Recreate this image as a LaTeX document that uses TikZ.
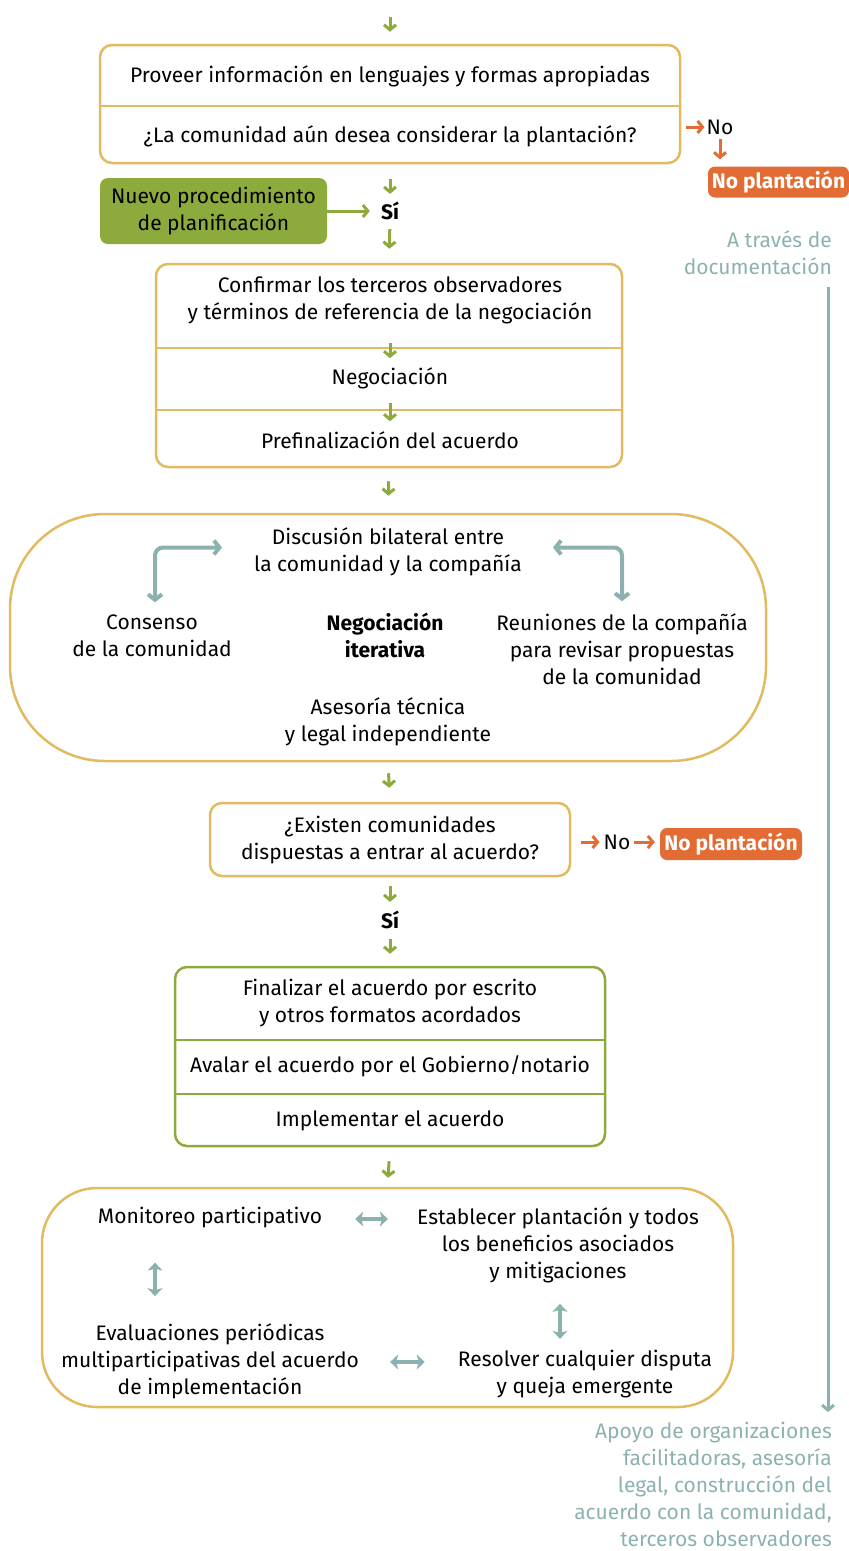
\documentclass[tikz,border=0pt]{standalone}
\usepackage{fontspec}
\setmainfont{Fira Sans}
\usepackage{tikz}
\usetikzlibrary{arrows.meta, positioning, calc}
\definecolor{mygold}{RGB}{226, 186, 96}
\definecolor{mygreen}{RGB}{141, 170, 60}
\definecolor{myorange}{RGB}{227, 108, 53}
\definecolor{myteal}{RGB}{140, 178, 175}
\tikzset{
  texto/.style = {align = center, inner sep = 0pt, font = \fontsize{21}{27}\selectfont},
  marco/.style = {draw = mygold, line width = 2.5pt, rounded corners = 12pt, inner sep = 0pt},
  divisor/.style = {draw = mygold, line width = 2.5pt},
  flecha/.style = {draw = mygreen, line width = 3pt, -{Straight Barb[length = 5pt, width = 12pt]}},
  flechanar/.style = {draw = myorange, line width = 3pt, -{Straight Barb[length = 5pt, width = 12pt]}},
  conector/.style = {draw = myteal, line width = 4pt, {Straight Barb[length = 5.5pt, width = 14pt]}-{Straight Barb[length = 5.5pt, width = 14pt]}},
  doble/.style = {draw = myteal, line width = 4pt, {Stealth[length = 8pt, width = 15pt, inset = 2pt]}-{Stealth[length = 8pt, width = 15pt, inset = 2pt]}},
  nota/.style = {texto, text = myteal, align = right},
  noplant/.style = {texto, fill = myorange, text = white, rounded corners = 7pt, font = \fontsize{21}{27}\selectfont\bfseries}
}
\begin{document}
\begin{tikzpicture}[x = 1pt, y = -1pt]
\useasboundingbox (0, 0) rectangle (849, 1551);

% primer bloque
\node[marco, minimum width = 580, minimum height = 118] (caja1) at (390, 104) {};
\draw[divisor] (caja1.west |- 0, 106) -- (caja1.east |- 0, 106);
\node[texto] (prov) at (390, 76) {Proveer información en lenguajes y formas apropiadas};
\node[texto] (preg1) at (390, 136) {¿La comunidad aún desea considerar la plantación?};
\coordinate (inicio) at (390, 17);
\draw[flecha, shorten >= 12pt] (inicio) -- (caja1.north);

\node[texto] (no1) at (720, 127) {No};
\node[noplant, minimum width = 141, minimum height = 31] (noplant1) at (778.5, 182) {No plantación};
\draw[flechanar, shorten <= 5pt, shorten >= 2pt] (caja1.east |- no1.west) -- (no1.west);
\draw[flechanar, shorten <= 4pt, shorten >= 7pt] (no1.south) -- (no1.south |- noplant1.north);

\node[texto, font = \fontsize{21}{27}\selectfont\bfseries] (si1) at (390, 211) {Sí};
\node[texto, fill = mygreen, rounded corners = 8pt, minimum width = 227, minimum height = 66] (nuevo) at (213.5, 211) {Nuevo procedimiento\\de planificación};
\draw[flecha, shorten <= 15pt, shorten >= 8pt] (caja1.south) -- (si1.north);
\draw[flecha, shorten >= 11pt] (nuevo.east) -- (si1.west);

% segundo bloque
\node[marco, minimum width = 466, minimum height = 203] (caja2) at (389, 365.5) {};
\draw[divisor] (caja2.west |- 0, 348) -- (caja2.east |- 0, 348);
\draw[divisor] (caja2.west |- 0, 410) -- (caja2.east |- 0, 410);
\node[texto] (conf) at (390, 300.5) {Confirmar los terceros observadores\\y términos de referencia de la negociación};
\node[texto] (neg) at (390, 378) {Negociación};
\node[texto] (pref) at (390, 440) {Prefinalización del acuerdo};
\draw[flecha, shorten <= 9pt, shorten >= 14pt] (si1.south) -- (caja2.north);
\draw[flecha, shorten <= 19pt, shorten >= 9pt] (conf.south) -- (neg.north);
\draw[flecha, shorten <= 14pt, shorten >= 10pt] (neg.south) -- (pref.north);

% negociacion iterativa
\node[marco, rounded corners = 95pt, minimum width = 756, minimum height = 247] (iter) at (388, 637.5) {};
\draw[flecha, shorten <= 13pt, shorten >= 17pt] (caja2.south) -- (iter.north);
\node[texto] (disc) at (388, 551.5) {Discusión bilateral entre\\la comunidad y la compañía};
\node[texto] (cons) at (152, 635.5) {Consenso\\de la comunidad};
\node[texto, font = \fontsize{21}{27}\selectfont\bfseries] (negit) at (385, 635.5) {Negociación\\iterativa};
\node[texto] (reun) at (622, 649) {Reuniones de la compañía\\para revisar propuestas\\de la comunidad};
\node[texto] (ases) at (388, 721.5) {Asesoría técnica\\y legal independiente};
\draw[conector, rounded corners = 8pt] ([xshift = -32pt, yshift = 4pt]disc.west) -| ([xshift = 3pt, yshift = 12pt]cons.north);
\draw[conector, rounded corners = 8pt] ([xshift = 31pt, yshift = 4pt]disc.east) -| ([yshift = 12pt]reun.north);

% segunda pregunta
\node[marco, minimum width = 360, minimum height = 73] (preg2) at (390, 839.5) {};
\node[texto] (exist) at (390, 840) {¿Existen comunidades\\dispuestas a entrar al acuerdo?};
\draw[flecha, shorten <= 11pt, shorten >= 14pt] (iter.south) -- (preg2.north);
\node[texto] (no2) at (617, 842) {No};
\node[noplant, minimum width = 142, minimum height = 32] (noplant2) at (731, 844) {No plantación};
\draw[flechanar, shorten <= 10pt, shorten >= 4pt] (preg2.east |- no2.west) -- (no2.west);
\draw[flechanar, shorten <= 3pt, shorten >= 5pt] (no2.east) -- (no2.east -| noplant2.west);

\node[texto, font = \fontsize{21}{27}\selectfont\bfseries] (si2) at (390, 920) {Sí};
\draw[flecha, shorten <= 9pt, shorten >= 9pt] (preg2.south) -- (si2.north);

% acuerdo
\node[marco, draw = mygreen, minimum width = 430, minimum height = 179] (caja4) at (390, 1056.5) {};
\draw[divisor, draw = mygreen] (caja4.west |- 0, 1040) -- (caja4.east |- 0, 1040);
\draw[divisor, draw = mygreen] (caja4.west |- 0, 1094) -- (caja4.east |- 0, 1094);
\node[texto] (fin) at (390, 1003) {Finalizar el acuerdo por escrito\\y otros formatos acordados};
\node[texto] (aval) at (390, 1066) {Avalar el acuerdo por el Gobierno/notario};
\node[texto] (impl) at (390, 1121) {Implementar el acuerdo};
\draw[flecha, shorten <= 10pt, shorten >= 12pt] (si2.south) -- (caja4.north);

% ciclo de implementacion
\node[marco, rounded corners = 55pt, minimum width = 691, minimum height = 219] (ciclo) at (387.5, 1297.5) {};
\draw[flecha, shorten <= 14pt, shorten >= 9pt] (caja4.south) -- (ciclo.north);
\node[texto] (mon) at (210, 1218) {Monitoreo participativo};
\node[texto] (est) at (558, 1245) {Establecer plantación y todos\\los beneficios asociados\\y mitigaciones};
\node[texto] (eval) at (210, 1361) {Evaluaciones periódicas\\multiparticipativas del acuerdo\\de implementación};
\node[texto] (res) at (585, 1374) {Resolver cualquier disputa\\y queja emergente};
\draw[doble, shorten <= 33pt, shorten >= 29pt] ([yshift = -1pt]mon.east) -- ([yshift = -1pt]mon.east -| est.west);
\draw[doble, shorten <= 31pt, shorten >= 33pt] ([yshift = -1pt]eval.east) -- ([yshift = -1pt]eval.east -| res.west);
\draw[doble, shorten <= 34pt, shorten >= 27pt] ([xshift = -55pt]mon.south) -- ([xshift = -55pt]mon.south |- eval.north);
\draw[doble, shorten <= 21pt, shorten >= 11pt] ([xshift = 2pt]est.south) -- ([xshift = 2pt]est.south |- res.north);

% apoyo lateral
\node[nota, anchor = east] (traves) at (832, 252.5) {A través de\\documentación};
\node[nota, anchor = north east] (apoyo) at (832, 1422) {Apoyo de organizaciones\\facilitadoras, asesoría\\legal, construcción del\\acuerdo con la comunidad,\\terceros observadores};
\coordinate (docfin) at (828, 287);
\draw[draw = myteal, line width = 3pt, -{Straight Barb[length = 5pt, width = 12pt]}, shorten >= 10pt] (docfin) -- (docfin |- apoyo.north);
\end{tikzpicture}
\end{document}
